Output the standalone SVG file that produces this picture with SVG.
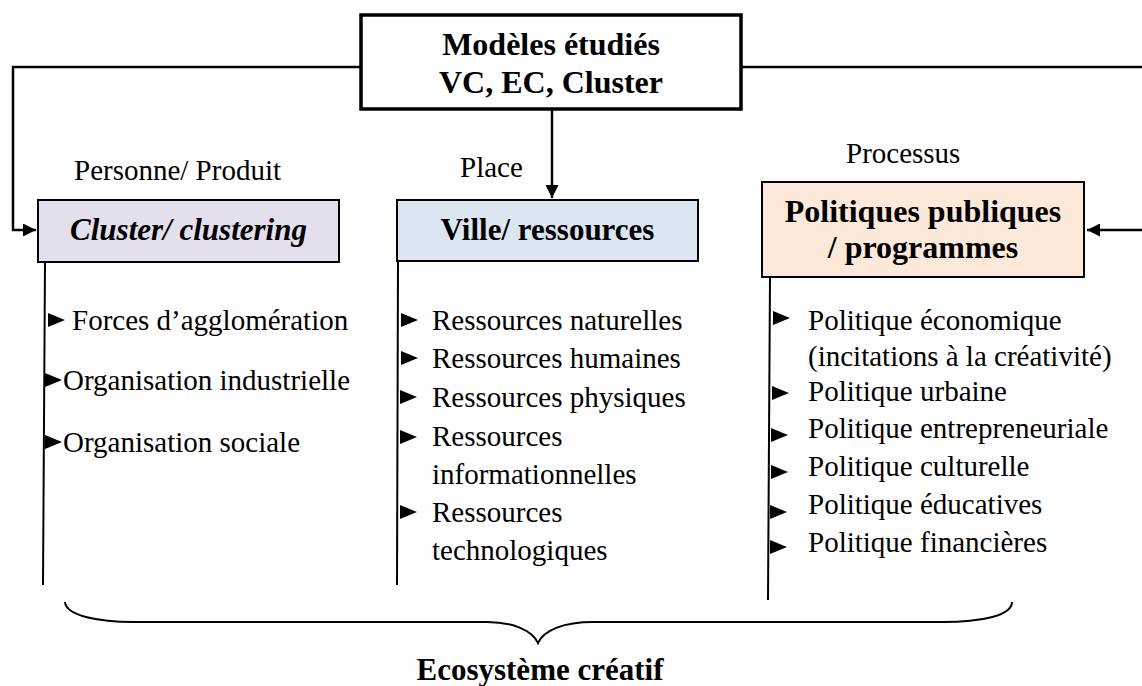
<svg xmlns="http://www.w3.org/2000/svg" xmlns:xlink="http://www.w3.org/1999/xlink" width="1142" height="686" viewBox="0 0 1142 686" font-family="'Liberation Serif', 'DejaVu Serif', serif">
  <style>
    text { font-family: 'Liberation Serif', 'DejaVu Serif', serif; fill: #000; }
    .reg { font-size: 29px; }
    .box-label { font-size: 31px; font-weight: bold; }
    .box { stroke: #000; stroke-width: 2; }
    .conn { fill: none; stroke: #000; stroke-width: 2.5; }
    .stem { fill: none; stroke: #000; stroke-width: 2; }
  </style>
  <defs>
    <marker id="arrow" viewBox="0 0 10 10" refX="10" refY="5" markerWidth="6.4" markerHeight="5.2" markerUnits="strokeWidth" orient="auto">
      <path d="M0,0 L10,5 L0,10 Z" fill="#000"/>
    </marker>
    <path id="bullet" d="M0,-7 L17,0 L0,7 Z" fill="#000"/>
  </defs>

  <!-- connectors from the central models box -->
  <g id="connectors">
    <path class="conn" d="M361,67 H13 V230 H36" marker-end="url(#arrow)"/>
    <path class="conn" d="M741,67 H1146 V230 H1087" marker-end="url(#arrow)"/>
    <path class="conn" d="M552,109 V198" marker-end="url(#arrow)"/>
  </g>

  <!-- central models box -->
  <g id="models">
    <rect x="361" y="15" width="380" height="94" fill="#fff" stroke="#000" stroke-width="3.5"/>
    <text x="551" y="55" font-size="32" font-weight="bold" text-anchor="middle">Modèles étudiés</text>
    <text x="551" y="93" font-size="32" font-weight="bold" text-anchor="middle">VC, EC, Cluster</text>
  </g>

  <!-- Cluster column -->
  <g id="cluster">
    <text class="reg" x="74" y="180">Personne/ Produit</text>
    <rect class="box" x="38" y="200" width="301" height="62" fill="#e4dfec"/>
    <text class="box-label" x="188.5" y="240" font-style="italic" text-anchor="middle">Cluster/ clustering</text>
    <path class="stem" d="M45,262 L43,585"/>
    <use xlink:href="#bullet" x="48" y="320"/>
    <text class="reg" x="72" y="330">Forces d’agglomération</text>
    <use xlink:href="#bullet" x="45" y="380"/>
    <text class="reg" x="63" y="390">Organisation industrielle</text>
    <use xlink:href="#bullet" x="45" y="442"/>
    <text class="reg" x="63" y="452">Organisation sociale</text>
  </g>

  <!-- City / resources column -->
  <g id="ville">
    <text class="reg" x="460" y="177">Place</text>
    <rect class="box" x="397" y="200" width="301" height="61" fill="#dce6f1"/>
    <text class="box-label" x="547.5" y="240" text-anchor="middle">Ville/ ressources</text>
    <path class="stem" d="M398,261 L397,585"/>
    <use xlink:href="#bullet" x="401" y="320"/>
    <text class="reg" x="432" y="330">Ressources naturelles</text>
    <use xlink:href="#bullet" x="401" y="358"/>
    <text class="reg" x="432" y="368">Ressources humaines</text>
    <use xlink:href="#bullet" x="400" y="397"/>
    <text class="reg" x="432" y="407">Ressources physiques</text>
    <use xlink:href="#bullet" x="400" y="437"/>
    <text class="reg" x="432" y="446">Ressources</text>
    <text class="reg" x="432" y="484">informationnelles</text>
    <use xlink:href="#bullet" x="400" y="512"/>
    <text class="reg" x="432" y="522">Ressources</text>
    <text class="reg" x="432" y="560">technologiques</text>
  </g>

  <!-- Public policies column -->
  <g id="politiques">
    <text class="reg" x="846" y="163">Processus</text>
    <rect class="box" x="762" y="182" width="322" height="95" fill="#fde9d9"/>
    <text x="923" y="222" font-size="32" font-weight="bold" text-anchor="middle">Politiques publiques</text>
    <text x="923" y="258" font-size="32" font-weight="bold" text-anchor="middle">/ programmes</text>
    <path class="stem" d="M770,277 L768,600"/>
    <use xlink:href="#bullet" x="773" y="318"/>
    <text class="reg" x="808" y="330">Politique économique</text>
    <text class="reg" x="808" y="366">(incitations à la créativité)</text>
    <use xlink:href="#bullet" x="772" y="393"/>
    <text class="reg" x="808" y="401">Politique urbaine</text>
    <use xlink:href="#bullet" x="771" y="435"/>
    <text class="reg" x="808" y="438">Politique entrepreneuriale</text>
    <use xlink:href="#bullet" x="771" y="472"/>
    <text class="reg" x="808" y="476">Politique culturelle</text>
    <use xlink:href="#bullet" x="770" y="512"/>
    <text class="reg" x="808" y="514">Politique éducatives</text>
    <use xlink:href="#bullet" x="770" y="547"/>
    <text class="reg" x="808" y="552">Politique financières</text>
  </g>

  <!-- brace grouping the three columns -->
  <g id="ecosysteme">
    <path class="stem" d="M65,602 C66,616 100,622 133,622 H487 C512,622 532,630 538,643 C544,630 564,622 593,622 H943 C980,622 1012,616 1012,602"/>
    <text x="540" y="680" font-size="31" font-weight="bold" text-anchor="middle">Ecosystème créatif</text>
  </g>
</svg>
